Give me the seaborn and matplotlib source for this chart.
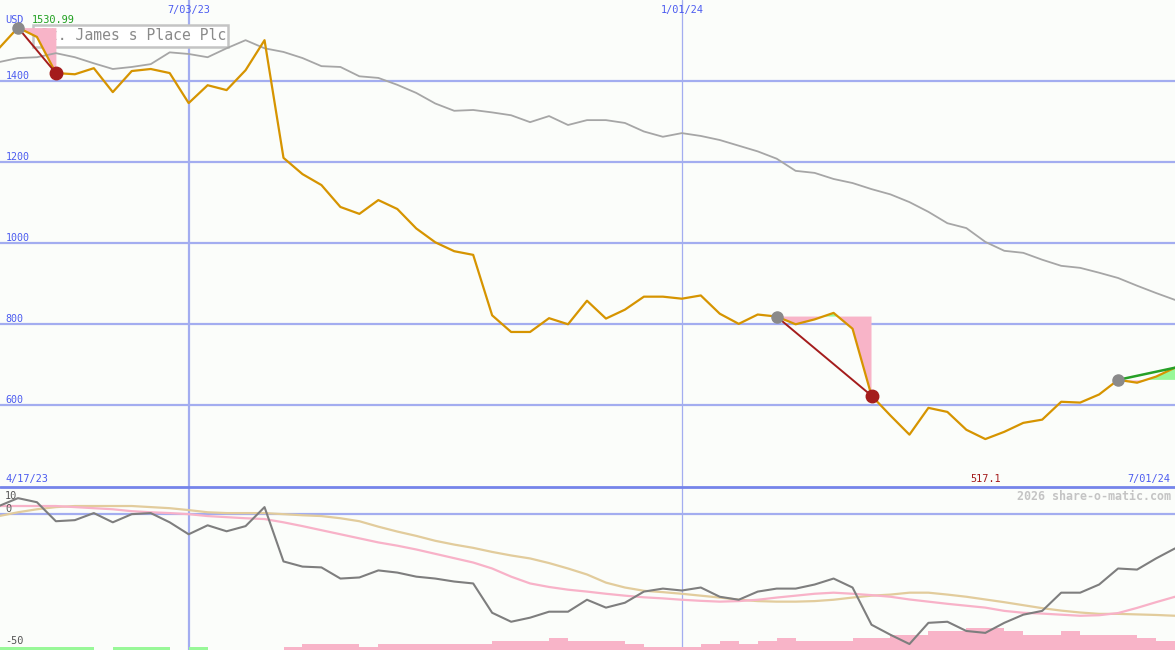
import matplotlib
matplotlib.use("Agg")
import matplotlib.pyplot as plt
import matplotlib.patches as mpatches
from matplotlib.lines import Line2D
import pandas as pd
import seaborn as sns

# weekly closes, St. James s Place Plc (USD)
start = "2023-04-24"
price = [1480, 1530.99, 1508, 1419, 1416, 1431, 1372, 1424, 1429, 1419,
         1345, 1389, 1377, 1426, 1500, 1210, 1170, 1143, 1089, 1072,
         1106, 1084, 1036, 1002, 980, 971, 822, 781, 781, 815,
         800, 858, 814, 836, 868, 868, 863, 871, 826, 801,
         824, 819, 800, 812, 828, 789, 624, 575, 528, 594,
         584, 540, 517.1, 535, 557, 565, 609, 607, 627, 663,
         656, 671, 693]
avg = [1446, 1456, 1458, 1468, 1458, 1443, 1429, 1434, 1441, 1470,
       1466, 1458, 1480, 1500, 1480, 1471, 1456, 1436, 1434, 1411,
       1407, 1390, 1370, 1344, 1326, 1328, 1322, 1315, 1298, 1313,
       1291, 1303, 1303, 1296, 1275, 1262, 1271, 1264, 1254, 1240,
       1226, 1208, 1178, 1173, 1158, 1148, 1133, 1120, 1101, 1077,
       1049, 1037, 1003, 981, 976, 959, 944, 939, 927, 914,
       895, 877, 860]
osc = [3.0, 5.9, 4.4, -2.6, -2.2, 0.4, -3.0, 0.0, 0.4, -3.0,
       -7.4, -4.1, -6.3, -4.4, 2.6, -17.4, -19.3, -19.6, -23.7, -23.3,
       -20.7, -21.5, -23.0, -23.7, -24.8, -25.5, -36.3, -39.6, -38.1, -35.9,
       -35.9, -31.5, -34.4, -32.6, -28.5, -27.4, -28.1, -27.0, -30.4, -31.5,
       -28.5, -27.4, -27.4, -25.9, -23.7, -27.0, -40.7, -44.4, -47.8, -40.0,
       -39.6, -43.0, -43.7, -40.0, -37.0, -35.6, -28.9, -28.9, -25.9, -20.0,
       -20.4, -16.3, -12.6]
osc_fast = [3.0, 3.0, 3.0, 3.0, 2.6, 2.2, 1.8, 1.1, 0.7, 0.4,
            0.0, -0.7, -1.1, -1.5, -1.8, -3.0, -4.4, -5.9, -7.4, -8.9,
            -10.4, -11.6, -13.0, -14.6, -16.2, -17.8, -20.0, -23.0, -25.5, -26.8,
            -27.8, -28.5, -29.3, -30.0, -30.6, -31.0, -31.5, -31.9, -32.2, -32.0,
            -31.5, -30.7, -30.0, -29.3, -28.9, -29.3, -29.8, -30.4, -31.4, -32.2,
            -33.0, -33.7, -34.4, -35.6, -36.3, -36.6, -37.0, -37.4, -37.2, -36.4,
            -34.5, -32.4, -30.4]
osc_slow = [-0.7, 0.7, 1.8, 2.6, 3.0, 3.0, 3.0, 3.0, 2.6, 2.2,
            1.5, 0.7, 0.4, 0.4, 0.4, 0.0, -0.4, -0.7, -1.5, -2.6,
            -4.6, -6.4, -8.0, -9.8, -11.2, -12.4, -13.9, -15.2, -16.3, -18.0,
            -20.0, -22.2, -25.2, -27.0, -28.2, -28.7, -29.3, -30.0, -30.7, -31.5,
            -32.0, -32.2, -32.2, -32.0, -31.5, -30.7, -30.0, -29.6, -28.9, -28.9,
            -29.6, -30.4, -31.4, -32.4, -33.5, -34.6, -35.5, -36.2, -36.7, -36.7,
            -36.9, -37.1, -37.4]
# weekly bars at the foot of the lower panel: + green, - pink
bars = [1.1, 1.1, 1.1, 1.1, 1.1, 0, 1.1, 1.1, 1.1, 0,
        1.1, 0, 0, 0, 0, -1.1, -2.2, -2.2, -2.2, -1.1,
        -2.2, -2.2, -2.2, -2.2, -2.2, -2.2, -3.3, -3.3, -3.3, -4.4,
        -3.3, -3.3, -3.3, -2.2, -1.1, -1.1, -1.1, -2.2, -3.3, -2.2,
        -3.3, -4.4, -3.3, -3.3, -3.3, -4.4, -4.4, -5.6, -5.6, -7.0,
        -7.0, -8.1, -8.1, -7.0, -5.6, -5.6, -7.0, -5.6, -5.6, -5.6,
        -4.4, -3.3, 0]
# (buy week, sell week); None = still open
trades = [(1, 3), (41, 46), (59, None)]
price_ticks = [1400, 1200, 1000, 800, 600]
date_lines = ["2023-07-03", "2024-01-01"]

dates = pd.date_range(start, periods=len(price), freq="7D")
df = pd.DataFrame({"date": dates, "price": price, "avg": avg,
                   "osc": osc, "fast": osc_fast, "slow": osc_slow, "bar": bars})

sns.set_style("white")
plt.rcParams["font.family"] = ["DejaVu Sans Mono"]

BG = "#fbfdfa"
GRID = "#a3adf0"
BLUE = "#4c5cf0"
ORANGE = "#d69400"
PINK = "#f8b4c8"
GREEN_FILL = "#98f898"
RED = "#a41c1c"

fig = plt.figure(figsize=(11.75, 6.5), dpi=100, facecolor=BG)
ax = fig.add_axes([0, 163 / 650, 1, 487 / 650])
axb = fig.add_axes([0, 0, 1, 163 / 650])
xmin = dates[0] + pd.Timedelta(hours=9)
xmax = dates[-1]
for a in (ax, axb):
    a.set_facecolor(BG)
    a.set_xlim(xmin, xmax)
    for s in a.spines.values():
        s.set_visible(False)
    a.set_xticks([])
    a.set_yticks([])
ax.set_ylim(399, 1599)
axb.set_ylim(-50, 10)

# grid
for v in price_ticks:
    ax.axhline(v, color=GRID, lw=1.6, zorder=1)
    ax.annotate(str(v), xy=(0, v), xycoords=("axes fraction", "data"),
                xytext=(4, 1.5), textcoords="offset points", va="baseline",
                fontsize=7.2, color=BLUE)
axb.axhline(0, color=GRID, lw=1.6, zorder=1)
for a in (ax, axb):
    a.axvline(pd.Timestamp(date_lines[0]), color=GRID, lw=1.6, zorder=1)
    a.axvline(pd.Timestamp(date_lines[1]), color=GRID, lw=0.9, zorder=1)
fig.add_artist(Line2D([0, 1], [163 / 650, 163 / 650], color="#7584ea", lw=2))

# name box (sits under the trade shading)
ax.add_patch(mpatches.Rectangle((33 / 1175, 1 - 47 / 487), 195 / 1175, 22 / 487,
                                transform=ax.transAxes, fc="white", ec="#c4c4c4",
                                lw=1.8, zorder=2))
ax.text(40 / 1175, 1 - 36 / 487, "St. James s Place Plc", transform=ax.transAxes,
        fontsize=10.6, color="#8a8a8a", va="center", ha="left", zorder=2.5)

# trades
for b, s in trades:
    end = s if s is not None else len(price) - 1
    seg = df.iloc[b:end + 1]
    lvl = price[b]
    ax.fill_between(seg["date"], lvl, seg["price"], where=seg["price"] <= lvl,
                    interpolate=True, color=PINK, lw=0, zorder=3)
    ax.fill_between(seg["date"], lvl, seg["price"], where=seg["price"] >= lvl,
                    interpolate=True, color=GREEN_FILL, lw=0, zorder=3)

sns.lineplot(data=df, x="date", y="avg", ax=ax, color="#a6a6a6", lw=1.3, zorder=4)
sns.lineplot(data=df, x="date", y="price", ax=ax, color=ORANGE, lw=1.6, zorder=5)

for b, s in trades:
    if s is not None:
        ax.plot([dates[b], dates[s]], [price[b], price[s]], color=RED, lw=1.4, zorder=6)
        ax.plot(dates[s], price[s], "o", ms=9, color=RED, mec=RED, zorder=7)
    else:
        ax.plot([dates[b], dates[-1]], [price[b], price[-1]], color="#26a026", lw=1.8, zorder=6)
    ax.plot(dates[b], price[b], "o", ms=8, color="#8a8a8a", mec="#8a8a8a", zorder=7)
ax.set_xlabel("")
ax.set_ylabel("")

# labels on the price panel
ax.text(5 / 1175, 1 - 20 / 487, "USD", transform=ax.transAxes, fontsize=7.4,
        color=BLUE, va="center")
ax.text(32 / 1175, 1 - 20 / 487, f"{max(price):.2f}", transform=ax.transAxes,
        fontsize=7.4, color="#20a020", va="center")
for d in date_lines:
    ts = pd.Timestamp(d)
    ax.annotate(f"{ts.month}/{ts.day:02d}/{ts.year % 100}", xy=(ts, 1),
                xycoords=("data", "axes fraction"), xytext=(0, -7),
                textcoords="offset points", ha="center", va="center",
                fontsize=7.4, color=BLUE)
ax.text(5 / 1175, 8 / 487, "4/17/23", transform=ax.transAxes, fontsize=7.4,
        color=BLUE, va="center")
ax.text(1 - 5 / 1175, 8 / 487, "7/01/24", transform=ax.transAxes, fontsize=7.4,
        color=BLUE, va="center", ha="right")
imin = price.index(min(price))
ax.annotate(f"{min(price):.1f}", xy=(dates[imin], 0), xycoords=("data", "axes fraction"),
            xytext=(0, 6), textcoords="offset points", ha="center", va="center",
            fontsize=7.4, color=RED)

# lower panel
pos = df[df["bar"] > 0]
neg = df[df["bar"] < 0]
axb.bar(pos["date"], pos["bar"], bottom=-50, width=7, align="edge",
        color=GREEN_FILL, lw=0, zorder=2)
axb.bar(neg["date"], -neg["bar"], bottom=-50, width=7, align="edge",
        color=PINK, lw=0, zorder=2)
sns.lineplot(data=df, x="date", y="slow", ax=axb, color="#e2cc9c", lw=1.6, zorder=3)
sns.lineplot(data=df, x="date", y="fast", ax=axb, color="#f8b2c8", lw=1.6, zorder=3)
sns.lineplot(data=df, x="date", y="osc", ax=axb, color="#7e7e7e", lw=1.5, zorder=4)
axb.set_xlabel("")
axb.set_ylabel("")
for lab, yf in [("10", 1 - 9 / 163), ("0", 1 - 22 / 163), ("-50", 9 / 163)]:
    axb.text(5 / 1175, yf, lab, transform=axb.transAxes, fontsize=7.4,
             color="#555555", va="center")
axb.text(1 - 4 / 1175, 1 - 9 / 163, "2026 share-o-matic.com", transform=axb.transAxes,
         fontsize=8.4, color="#c4c4c4", fontweight="bold", ha="right", va="center")

fig.savefig("out.png", dpi=100, facecolor=BG)
